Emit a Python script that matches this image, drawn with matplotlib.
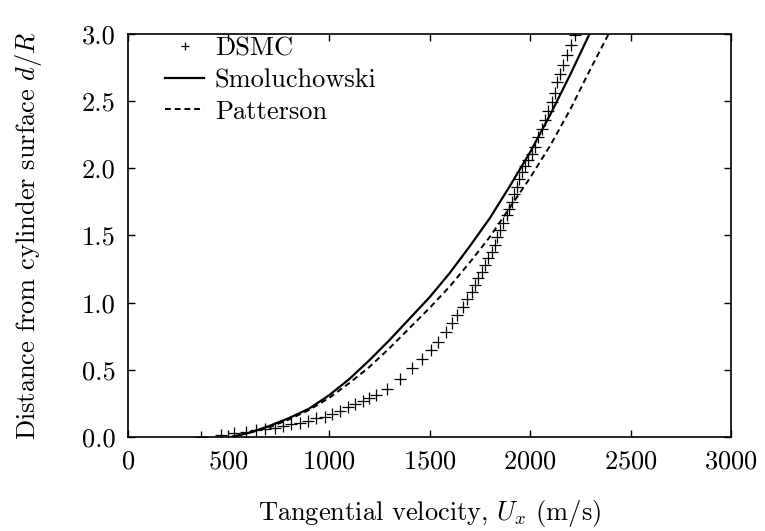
import numpy as np
import matplotlib
matplotlib.use("Agg")
import matplotlib.pyplot as plt

plt.rcParams['font.family'] = 'serif'
plt.rcParams['font.serif'] = ['cmr10', 'DejaVu Serif']
plt.rcParams['mathtext.fontset'] = 'cm'
plt.rcParams['axes.formatter.use_mathtext'] = True
plt.rcParams['font.size'] = 19

# DSMC points (velocity m/s, d/R)
dsmc_u = [363, 463, 527, 587, 637, 682, 731, 771, 811, 856, 896, 935, 980, 1015,
          1055, 1094, 1129, 1169, 1199, 1234, 1289, 1353, 1413, 1463, 1507, 1542,
          1582, 1612, 1637, 1667, 1687, 1711, 1726, 1741, 1761, 1776, 1791, 1811,
          1826, 1836, 1851, 1866, 1885, 1895, 1910, 1920, 1935, 1945, 1960, 1975,
          1990, 2010, 2025, 2040, 2060, 2075, 2090, 2110, 2125, 2134, 2149, 2164,
          2184, 2204, 2224, 2244]
dsmc_d = [0.0, 0.015, 0.03, 0.04, 0.05, 0.06, 0.07, 0.08, 0.095, 0.105, 0.12, 0.14,
          0.15, 0.17, 0.19, 0.22, 0.245, 0.27, 0.29, 0.31, 0.36, 0.43, 0.51, 0.58,
          0.65, 0.71, 0.78, 0.85, 0.91, 0.97, 1.03, 1.08, 1.13, 1.18, 1.23, 1.28,
          1.33, 1.38, 1.43, 1.49, 1.54, 1.59, 1.65, 1.70, 1.75, 1.81, 1.86, 1.92,
          1.97, 2.02, 2.06, 2.11, 2.16, 2.23, 2.29, 2.36, 2.43, 2.49, 2.56, 2.64,
          2.70, 2.77, 2.84, 2.92, 2.99, 3.05]

# Smoluchowski slip model
smol_u = [512, 600, 700, 800, 900, 1000, 1100, 1200, 1300, 1400, 1500, 1600, 1700,
          1800, 1900, 2000, 2100, 2200, 2295]
smol_d = [0.0, 0.03, 0.08, 0.14, 0.21, 0.31, 0.43, 0.57, 0.72, 0.88, 1.04, 1.22,
          1.42, 1.63, 1.87, 2.12, 2.40, 2.70, 3.0]

# Patterson model
patt_u = [512, 600, 700, 800, 900, 1000, 1100, 1200, 1300, 1400, 1500, 1600, 1700,
          1800, 1900, 2000, 2100, 2200, 2300, 2390]
patt_d = [0.0, 0.03, 0.07, 0.13, 0.20, 0.29, 0.40, 0.52, 0.66, 0.81, 0.96, 1.12,
          1.30, 1.49, 1.71, 1.93, 2.17, 2.44, 2.74, 3.0]

fig = plt.figure(figsize=(7.65, 5.31), dpi=100)
ax = fig.add_axes([0.167, 0.177, 0.789, 0.759])

ax.plot(dsmc_u, dsmc_d, '+', color='black', markersize=8, markeredgewidth=0.9,
        label='DSMC')
ax.plot(smol_u, smol_d, '-', color='black', linewidth=1.6, label='Smoluchowski')
ax.plot(patt_u, patt_d, '--', color='black', linewidth=1.4, dashes=(3, 2),
        label='Patterson')

ax.set_xlim(0, 3000)
ax.set_ylim(0, 3.0)
ax.set_xticks(np.arange(0, 3001, 500))
ax.set_yticks(np.arange(0, 3.01, 0.5))
ax.yaxis.set_major_formatter(matplotlib.ticker.FormatStrFormatter('%.1f'))
ax.tick_params(direction='in', top=True, right=True, length=5, width=1, pad=9)
for s in ax.spines.values():
    s.set_linewidth(1.2)

ax.set_xlabel('Tangential velocity, $U_x$ (m/s)', labelpad=18)
ax.set_ylabel('Distance from cylinder surface $d/R$', labelpad=27)

ax.legend(loc='upper left', frameon=False, handlelength=1.5, borderaxespad=0.0,
          labelspacing=0.3, handletextpad=0.4, borderpad=0.1, markerscale=0.8,
          bbox_to_anchor=(0.057, 1.0))

plt.savefig('out.png', dpi=100)
